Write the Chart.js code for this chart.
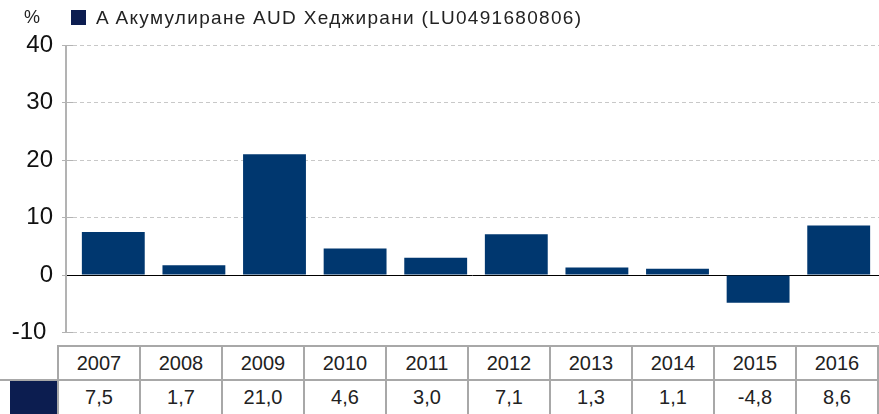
<!DOCTYPE html>
<html lang="bg">
<head>
<meta charset="utf-8">
<script src="https://cdn.jsdelivr.net/npm/chart.js@4.4.1/dist/chart.umd.min.js"></script>
<style>
    body { margin: 0; background: #fff; font-family: "Liberation Sans", Arial, sans-serif; color: #222; }
    #wrap { position: relative; width: 879px; height: 414px; overflow: hidden; }
    #chart-box { position: absolute; left: 0; top: 0; width: 879px; height: 356px; }
    #unit { position: absolute; left: 24px; top: 7px; font-size: 18px; }
    #legend { position: absolute; left: 71px; top: 7px; font-size: 19px; letter-spacing: 1.3px; white-space: nowrap; }
    #legend .sw { display: inline-block; width: 15px; height: 15px; background: #0c1d50; margin-right: 10px; vertical-align: -1px; }
    #data-table { position: absolute; left: 0; top: 345px; border-collapse: collapse; table-layout: fixed; background: #fff; }
    #data-table td { border: 2px solid #a8a8a8; text-align: center; font-size: 20px; padding: 0; height: 32px; }
    #data-table td.blank { border: none; border-right: 2px solid #a8a8a8; }
    #data-table td.key { border: none; border-right: 2px solid #a8a8a8; border-top: 2px solid #a8a8a8; padding-left: 10px; }
    #data-table td.key div { width: 47px; height: 34px; background: #0c1d50; }
</style>
</head>
<body>
<div id="wrap">
    <div id="chart-box"><canvas id="barChart"></canvas></div>
    <div id="unit">%</div>
    <div id="legend"><span class="sw"></span><span id="legend-label"></span></div>
    <table id="data-table">
        <colgroup><col style="width:58px"></colgroup>
        <tbody></tbody>
    </table>
</div>
<script>
// Data
const years = ['2007', '2008', '2009', '2010', '2011', '2012', '2013', '2014', '2015', '2016'];
const returns = [7.5, 1.7, 21.0, 4.6, 3.0, 7.1, 1.3, 1.1, -4.8, 8.6];
const seriesLabel = 'A Акумулиране AUD Хеджирани (LU0491680806)';
const yTicks = [-10, 0, 10, 20, 30, 40];

const formatValue = (v) => v.toFixed(1).replace('.', ',');

document.getElementById('legend-label').textContent = seriesLabel;

// Table under the chart
function buildTable() {
    const tbody = document.querySelector('#data-table tbody');
    const colgroup = document.querySelector('#data-table colgroup');
    years.forEach(() => {
        const col = document.createElement('col');
        col.style.width = '82px';
        colgroup.appendChild(col);
    });

    const head = document.createElement('tr');
    head.innerHTML = '<td class="blank"></td>' + years.map(y => `<td>${y}</td>`).join('');
    tbody.appendChild(head);

    const row = document.createElement('tr');
    row.innerHTML = '<td class="key"><div></div></td>' + returns.map(v => `<td>${formatValue(v)}</td>`).join('');
    tbody.appendChild(row);
}
buildTable();

// axis line at x=66 and solid zero line
const axisLines = {
    id: 'axisLines',
    beforeDatasetsDraw(chart) {
        const { ctx, chartArea, scales } = chart;
        const y0 = scales.y.getPixelForValue(0);
        ctx.save();
        ctx.strokeStyle = '#000';
        ctx.lineWidth = 1;
        ctx.beginPath();
        ctx.moveTo(66, Math.round(y0) + 0.5);
        ctx.lineTo(chartArea.right, Math.round(y0) + 0.5);
        ctx.stroke();
        ctx.strokeStyle = '#b3b3b3';
        ctx.lineWidth = 2;
        ctx.beginPath();
        ctx.moveTo(66, chartArea.top);
        ctx.lineTo(66, chartArea.bottom);
        ctx.stroke();
        ctx.restore();
    }
};

const ctx = document.getElementById('barChart').getContext('2d');
new Chart(ctx, {
    type: 'bar',
    data: {
        labels: years,
        datasets: [{
            label: seriesLabel,
            data: returns,
            backgroundColor: '#00376f',
            borderWidth: 0,
            categoryPercentage: 1,
            barPercentage: 0.78
        }]
    },
    options: {
        responsive: true,
        maintainAspectRatio: false,
        animation: false,
        layout: { padding: { top: 45, bottom: 0, left: 0, right: 0 } },
        plugins: {
            legend: { display: false },
            tooltip: { enabled: false }
        },
        scales: {
            x: { display: false },
            y: {
                min: -10,
                max: 40,
                afterBuildTicks: (axis) => { axis.ticks = yTicks.map(v => ({ value: v })); },
                afterFit: (axis) => { axis.width = 73; },
                ticks: {
                    padding: 9,
                    color: '#111',
                    font: { family: '"Liberation Sans", Arial, sans-serif', size: 24 },
                    // the -10 label sits a bit further left in the original
                    callback: (v) => v === -10 ? '-10 ' : String(v)
                },
                grid: {
                    color: (c) => c.tick && c.tick.value === 0 ? 'rgba(0,0,0,0)' : '#c8c8c8',
                    tickColor: '#b3b3b3',
                    tickLength: 11,
                    lineWidth: 1
                },
                border: { display: false, dash: [4, 3] }
            }
        }
    },
    plugins: [axisLines]
});
</script>
</body>
</html>
